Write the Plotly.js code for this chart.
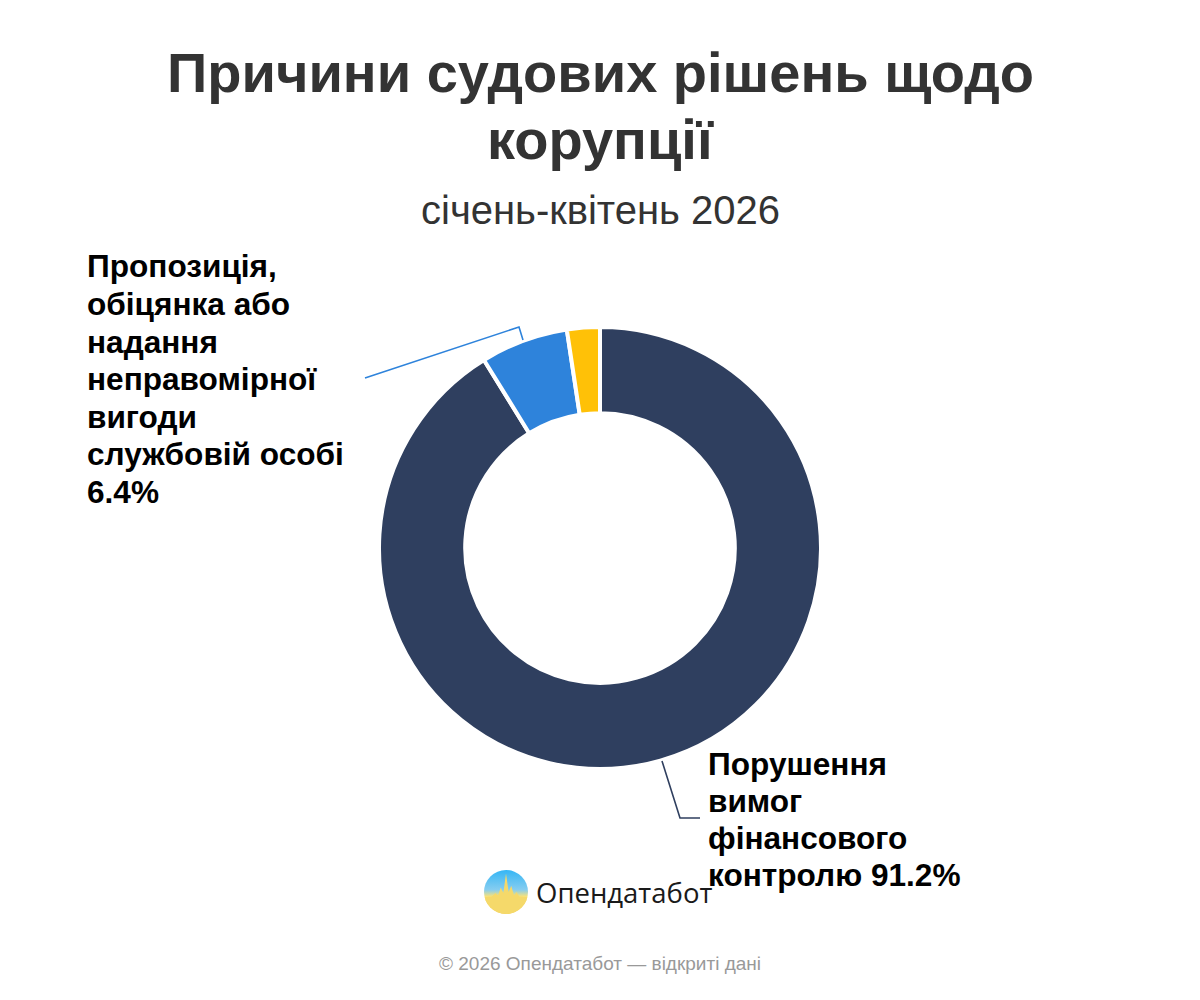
<!DOCTYPE html>
<html>
<head>
<meta charset="utf-8">
<script src="https://cdn.plot.ly/plotly-3.0.1.min.js"></script>
<style>html,body{margin:0;padding:0;background:#fff;}#chart{width:1200px;height:1000px;}</style>
</head>
<body>
<div id="chart"></div>
<script>
// Data
const categories = [
  "Порушення вимог фінансового контролю",
  "Пропозиція, обіцянка або надання неправомірної вигоди службовій особі",
  "Інше"
];
const shares = [91.2, 6.4, 2.4];
const sliceColors = ["#2f3f5f", "#2e83db", "#ffc107"];
const labelLinesMain = ["Порушення", "вимог", "фінансового", "контролю"];
const labelLinesBribe = ["Пропозиція,", "обіцянка або", "надання", "неправомірної", "вигоди", "службовій особі"];
const titleLines = ["Причини судових рішень щодо", "корупції"];
const subtitle = "січень-квітень 2026";
const brand = "Опендатабот";
const footer = "© 2026 Опендатабот — відкриті дані";

const W = 1200, H = 1000;
const px = x => x / W;
const py = y => 1 - y / H;

const cx = 600, cy = 548, R = 221;

const trace = {
  type: "pie",
  labels: categories,
  values: shares,
  sort: false,
  direction: "clockwise",
  rotation: 0,
  hole: 0.61,
  textinfo: "none",
  hoverinfo: "label+percent",
  marker: { colors: sliceColors, line: { color: "#ffffff", width: 4 } },
  domain: { x: [px(cx - R), px(cx + R)], y: [py(cy + R), py(cy - R)] },
  showlegend: false
};

const fontFam = "Liberation Sans, Arial, sans-serif";
const annotations = [];

function addLine(text, x, yMid, size, color, bold, xanchor) {
  annotations.push({
    text: bold ? "<b>" + text + "</b>" : text,
    x: px(x), y: py(yMid), xref: "paper", yref: "paper",
    xanchor: xanchor, yanchor: "middle", showarrow: false,
    font: { family: fontFam, size: size, color: color }
  });
}

// title
titleLines.forEach((t, i) => addLine(t, 600, 73 + i * 66, 56, "#333333", true, "center"));
addLine(subtitle, 600, 210, 40, "#333333", false, "center");

// brand text (drawn before labels so labels sit on top)
annotations.push({
  text: brand, x: px(534), y: py(892), xref: "paper", yref: "paper",
  xanchor: "left", yanchor: "middle", showarrow: false,
  font: { family: "Open Sans, Roboto, sans-serif", size: 27.5, color: "#1a1a1a" }
});

// labels
const bribeLines = labelLinesBribe.concat([shares[1].toFixed(1) + "%"]);
bribeLines.forEach((t, i) => addLine(t, 85, 266.5 + i * 37.5, 31.6, "#000000", true, "left"));
const mainLines = labelLinesMain.slice();
mainLines[mainLines.length - 1] += " " + shares[0].toFixed(1) + "%";
mainLines.forEach((t, i) => addLine(t, 706, 763.5 + i * 37.3, 31.6, "#000000", true, "left"));

addLine(footer, 600, 963, 19, "#999999", false, "center");

const logoSvg = '<svg xmlns="http://www.w3.org/2000/svg" width="100" height="100" viewBox="0 0 100 100">' +
  '<defs><linearGradient id="g" x1="0" y1="0" x2="0" y2="1">' +
  '<stop offset="0" stop-color="#35b6f5"/><stop offset="0.45" stop-color="#86cdf0"/>' +
  '<stop offset="0.6" stop-color="#f7e27a"/><stop offset="1" stop-color="#f2c94c"/></linearGradient>' +
  '<clipPath id="c"><circle cx="50" cy="50" r="50"/></clipPath></defs>' +
  '<circle cx="50" cy="50" r="50" fill="url(#g)"/>' +
  '<polygon clip-path="url(#c)" fill="#f5d96a" points="0,62 18,60 26,52 32,58 38,40 44,52 50,8 56,50 62,36 68,58 74,50 80,60 100,62 100,100 0,100"/>' +
  '</svg>';
const logoUri = "data:image/svg+xml;base64," + btoa(logoSvg);

const layout = {
  width: W, height: H,
  margin: { l: 0, r: 0, t: 0, b: 0 },
  paper_bgcolor: "#ffffff",
  annotations: annotations,
  shapes: [
    { type: "path", xref: "paper", yref: "paper",
      path: "M " + px(365) + "," + py(378) + " L " + px(519) + "," + py(327) + " L " + px(523) + "," + py(340),
      line: { color: sliceColors[1], width: 1.6 } },
    { type: "path", xref: "paper", yref: "paper",
      path: "M " + px(662) + "," + py(761) + " L " + px(680) + "," + py(818) + " L " + px(700) + "," + py(818),
      line: { color: sliceColors[0], width: 1.6 } }
  ],
  images: [
    { source: logoUri, xref: "paper", yref: "paper", x: px(484), y: py(870),
      sizex: px(44), sizey: 44 / H, xanchor: "left", yanchor: "top", sizing: "stretch", layer: "above" }
  ]
};

Plotly.newPlot("chart", [trace], layout, { displayModeBar: false, staticPlot: true });
</script>
</body>
</html>
